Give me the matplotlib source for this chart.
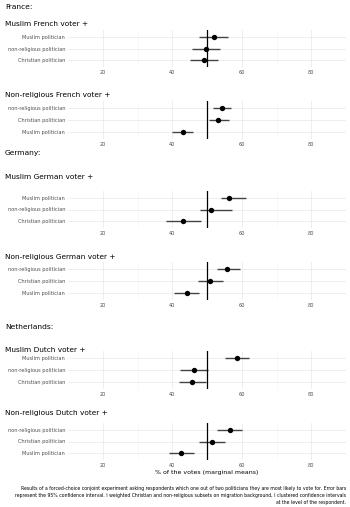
import numpy as np
import matplotlib
matplotlib.use("Agg")
import matplotlib.pyplot as plt

# panel titles and row labels (top row first)
titles = ["Muslim French voter +", "Non-religious French voter +",
          "Muslim German voter +", "Non-religious German voter +",
          "Muslim Dutch voter +", "Non-religious Dutch voter +"]
countries = ["France:", "Germany:", "Netherlands:"]

labels_muslim = ["Muslim politician", "non-religious politician", "Christian politician"]
labels_nonrel = ["non-religious politician", "Christian politician", "Muslim politician"]

# marginal means and 95% CI, rows in the order of the labels
fr_mus_est = [52.0, 49.8, 49.2]
fr_mus_lo = [47.8, 45.6, 45.0]
fr_mus_hi = [56.1, 53.8, 53.3]

fr_non_est = [54.2, 53.3, 43.1]
fr_non_lo = [51.8, 50.5, 40.0]
fr_non_hi = [56.8, 56.2, 46.1]

de_mus_est = [56.4, 51.2, 43.2]
de_mus_lo = [53.9, 48.0, 38.1]
de_mus_hi = [61.3, 57.2, 48.4]

de_non_est = [55.8, 51.0, 44.2]
de_non_lo = [52.8, 47.5, 40.6]
de_non_hi = [59.4, 54.6, 47.6]

nl_mus_est = [58.5, 46.2, 45.7]
nl_mus_lo = [55.2, 42.2, 41.9]
nl_mus_hi = [62.0, 50.2, 49.8]

nl_non_est = [56.5, 51.4, 42.6]
nl_non_lo = [52.9, 47.6, 39.0]
nl_non_hi = [60.1, 55.1, 46.4]

xticks = [20, 40, 60, 80]

W, H = 350, 507
fig = plt.figure(figsize=(W / 100, H / 100), dpi=100)
fig.patch.set_facecolor("white")

def box(x0, y0, x1, y1):
    # pixel box (top-left origin) -> figure coords
    return [x0 / W, 1 - y1 / H, (x1 - x0) / W, (y1 - y0) / H]

panels = [
    (labels_muslim, fr_mus_est, fr_mus_lo, fr_mus_hi, 30, 67),
    (labels_nonrel, fr_non_est, fr_non_lo, fr_non_hi, 101, 139),
    (labels_muslim, de_mus_est, de_mus_lo, de_mus_hi, 191, 228),
    (labels_nonrel, de_non_est, de_non_lo, de_non_hi, 262, 300),
    (labels_muslim, nl_mus_est, nl_mus_lo, nl_mus_hi, 351, 389),
    (labels_nonrel, nl_non_est, nl_non_lo, nl_non_hi, 423, 460),
]
title_y = [24, 95, 177, 257, 350, 413]
country_y = [7, 153, 327]

for i, (labs, est, lo, hi, y0, y1) in enumerate(panels):
    ax = fig.add_axes(box(68, y0, 346, y1))
    ypos = np.arange(len(labs))[::-1] + 1
    ax.set_xlim(10, 90)
    ax.set_ylim(0.4, 3.6)
    for g in [20, 40, 60, 80]:
        ax.axvline(g, color="#ebebeb", lw=0.6, zorder=0)
    for g in [30, 50, 70]:
        ax.axvline(g, color="#f4f4f4", lw=0.4, zorder=0)
    for y in ypos:
        ax.axhline(y, color="#ebebeb", lw=0.6, zorder=0)
    ax.hlines(ypos, lo, hi, color="#444444", lw=1.0, zorder=2)
    ax.axvline(50, color="black", lw=0.9, zorder=3)
    ax.scatter(est, ypos, s=15, color="black", zorder=4, linewidths=0)
    ax.set_yticks(ypos)
    ax.set_yticklabels(labs, fontsize=3.6, color="#4d4d4d")
    ax.set_xticks(xticks)
    ax.set_xticklabels([str(t) for t in xticks], fontsize=3.6, color="#4d4d4d")
    ax.tick_params(length=0, pad=2)
    for s in ax.spines.values():
        s.set_visible(False)
    ax.set_facecolor("none")
    fig.text(5 / W, 1 - title_y[i] / H, titles[i], fontsize=5.3, va="center", ha="left")
    if i == 5:
        ax.set_xlabel("% of the votes (marginal means)", fontsize=4.5, labelpad=1.5)

for c, y in zip(countries, country_y):
    fig.text(5 / W, 1 - y / H, c, fontsize=5.4, va="center", ha="left")

caption = ("Results of a forced-choice conjoint experiment asking respondents which one out of two politicians they are most likely to vote for. Error bars\n"
           "represent the 95% confidence interval. I weighted Christian and non-religious subsets on migration background, I clustered confidence intervals\n"
           "at the level of the respondent.")
fig.text(346 / W, 1 - 486 / H, caption, fontsize=3.35, ha="right", va="top",
         multialignment="right", linespacing=1.5)

fig.savefig("out.png", dpi=100, facecolor="white")
